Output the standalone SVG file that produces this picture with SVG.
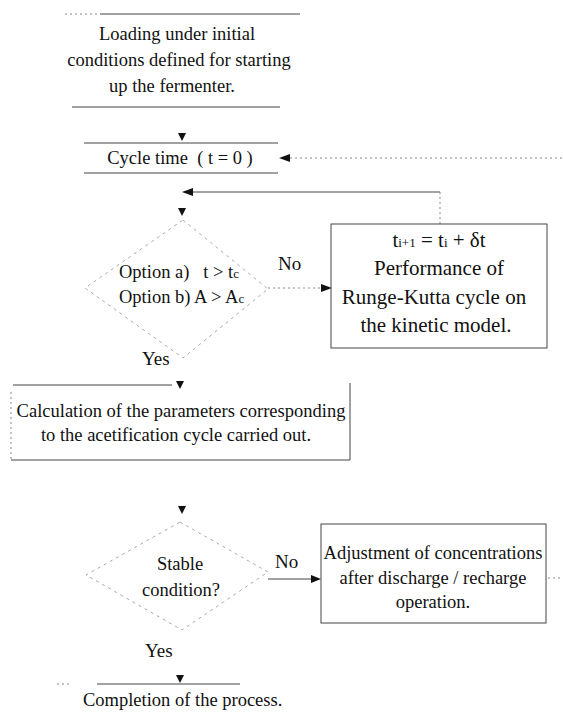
<svg xmlns="http://www.w3.org/2000/svg" width="563" height="715" viewBox="0 0 563 715">
<style>
.t{font-family:"Liberation Serif","Times New Roman",serif;font-size:18.5px;fill:#111}
.tb{font-family:"Liberation Serif","Times New Roman",serif;font-size:21px;fill:#111}
.m{text-anchor:middle}
.ln{stroke:#444;stroke-width:1;fill:none}
.fd{stroke:#888;stroke-width:1;fill:none;stroke-dasharray:2 3}
.dia{stroke:#aaa;stroke-width:1;fill:none;stroke-dasharray:3 4}
.ah{fill:#111}
.sub{font-size:13px}
</style>
<rect width="563" height="715" fill="#fff"/>
<g id="connectors">
  <polygon class="ah" points="178,133 186,133 182,141"/>
  <line class="fd" x1="290" y1="158" x2="563" y2="158"/>
  <polygon class="ah" points="279,158 290,154 290,162"/>
  <line class="ln" x1="192" y1="192" x2="440" y2="192"/>
  <line class="fd" x1="440" y1="192" x2="440" y2="224"/>
  <polygon class="ah" points="182,192 193,188 193,196"/>
  <polygon class="ah" points="178,208 186,208 182,216"/>
  <line class="fd" x1="268" y1="288" x2="322" y2="288"/>
  <polygon class="ah" points="332,288 321,284 321,292"/>
  <polygon class="ah" points="176,381 184,381 180,389"/>
  <polygon class="ah" points="178,506 186,506 182,514"/>
  <line class="ln" x1="268" y1="579" x2="312" y2="579"/>
  <polygon class="ah" points="321,579 311,575 311,583"/>
  <line class="fd" x1="548" y1="578" x2="562" y2="578"/>
  <polygon class="ah" points="176,675 184,675 180,683"/>
  <text class="t" x="278" y="270" style="font-size:19px">No</text>
  <text class="t" x="142" y="365" style="font-size:19px">Yes</text>
  <text class="t" x="275" y="568" style="font-size:19px">No</text>
  <text class="t" x="145" y="657" style="font-size:19px">Yes</text>
</g>
<g id="start">
  <line class="fd" x1="65" y1="14" x2="100" y2="14"/>
  <line class="ln" x1="100" y1="14" x2="300" y2="14"/>
  <line class="ln" x1="72" y1="107" x2="280" y2="107"/>
  <text class="t m" x="177" y="40">Loading under initial</text>
  <text class="t m" x="179" y="66">conditions defined for starting</text>
  <text class="t m" x="172" y="92">up the fermenter.</text>
</g>
<g id="cycle-time">
  <line class="ln" x1="84" y1="143" x2="278" y2="143"/>
  <line class="ln" x1="84" y1="173" x2="278" y2="173"/>
  <text class="t m" x="180" y="164" xml:space="preserve">Cycle time  ( t = 0 )</text>
</g>
<g id="decision-1">
  <polygon class="dia" points="183,220 268,289 183,358 85,288"/>
  <text class="t" x="119" y="278" xml:space="preserve">Option a)   t &gt; t<tspan class="sub">c</tspan></text>
  <text class="t" x="119" y="303">Option b) A &gt; A<tspan class="sub">c</tspan></text>
</g>
<g id="runge-kutta">
  <rect class="ln" x="331" y="224" width="216" height="124"/>
  <text class="tb m" x="439" y="247">t<tspan class="sub">i+1</tspan> = t<tspan class="sub">i</tspan> + δt</text>
  <text class="tb m" x="439" y="275">Performance of</text>
  <text class="tb m" x="434" y="304">Runge-Kutta cycle on</text>
  <text class="tb m" x="436" y="332">the kinetic model.</text>
</g>
<g id="calculation">
  <line class="ln" x1="13" y1="385" x2="172" y2="385"/>
  <line class="ln" x1="350" y1="383" x2="350" y2="460"/>
  <line class="ln" x1="11" y1="460" x2="350" y2="460"/>
  <line class="fd" x1="11" y1="392" x2="11" y2="460"/>
  <text class="t m" x="181" y="417">Calculation of the parameters corresponding</text>
  <text class="t m" x="176" y="441">to the acetification cycle carried out.</text>
</g>
<g id="decision-2">
  <polygon class="dia" points="180,522 268,572 182,630 86,575"/>
  <text class="t m" x="180" y="570">Stable</text>
  <text class="t m" x="181" y="596">condition?</text>
</g>
<g id="adjustment">
  <rect class="ln" x="321" y="524" width="225" height="99"/>
  <text class="t m" x="433" y="559">Adjustment of concentrations</text>
  <text class="t m" x="433" y="584">after discharge / recharge</text>
  <text class="t m" x="433" y="608">operation.</text>
</g>
<g id="completion">
  <line class="fd" x1="57" y1="684" x2="72" y2="684"/>
  <line class="ln" x1="97" y1="684" x2="240" y2="684"/>
  <text class="t" x="83" y="706">Completion of the process.</text>
</g>
</svg>
